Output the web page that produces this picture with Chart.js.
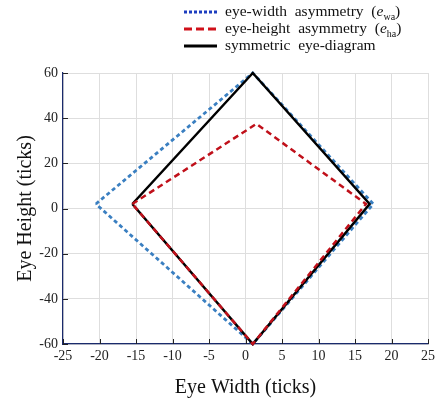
<!DOCTYPE html>
<html>
<head>
<meta charset="utf-8">
<script src="https://cdn.jsdelivr.net/npm/chart.js@4"></script>
<style>
  body { margin: 0; background: #fff; }
  #wrap { position: relative; width: 442px; height: 404px; }
  #legend { position: absolute; left: 183px; top: 2px; font-family: "Liberation Serif", serif; font-size: 15.5px; color: #111; }
  #legend div { height: 17px; line-height: 17px; white-space: nowrap; }
  #legend svg { vertical-align: middle; margin-right: 8px; }
  #legend sub { font-size: 10px; }
</style>
</head>
<body>
<div id="wrap">
  <canvas id="c" width="442" height="404"></canvas>
  <div id="legend">
    <div><svg width="34" height="6"><line x1="1" y1="3" x2="34" y2="3" stroke="#1c3dbf" stroke-width="3" stroke-dasharray="3,2"/></svg>eye-width&nbsp; asymmetry&nbsp; (<i>e</i><sub>wa</sub>)</div>
    <div><svg width="34" height="6"><line x1="1" y1="3" x2="34" y2="3" stroke="#d0101a" stroke-width="3" stroke-dasharray="8,4"/></svg>eye-height&nbsp; asymmetry&nbsp; (<i>e</i><sub>ha</sub>)</div>
    <div><svg width="34" height="6"><line x1="1" y1="3" x2="34" y2="3" stroke="#000" stroke-width="3"/></svg>symmetric&nbsp; eye-diagram</div>
  </div>
</div>
<script>
// corner points of each eye outline (left, top, right, bottom, back to left)
const widthX = [-20.5, 1, 17.5, 1, -20.5];
const widthY = [2, 60, 2, -60, 2];
const heightX = [-15.5, 1.5, 16.5, 1, -15.5];
const heightY = [2, 37.5, 2, -60, 2];
const symX = [-15.5, 1, 17, 1, -15.5];
const symY = [2, 60, 2, -60, 2];

const xTicks = [-25, -20, -15, -10, -5, 0, 5, 10, 15, 20, 25];
const yTicks = [-60, -40, -20, 0, 20, 40, 60];

function pts(xs, ys) {
    return xs.map((x, i) => ({ x: x, y: ys[i] }));
}

const serif = '"Liberation Serif", "Times New Roman", serif';

// small inward tick marks like the original plot
const innerTicks = {
    id: 'innerTicks',
    afterDraw(chart) {
        const ctx = chart.ctx;
        const a = chart.chartArea;
        const xs = chart.scales.x, ys = chart.scales.y;
        ctx.save();
        ctx.strokeStyle = '#222';
        ctx.lineWidth = 1;
        xTicks.forEach(v => {
            const px = Math.round(xs.getPixelForValue(v)) + 0.5;
            ctx.beginPath();
            ctx.moveTo(px, a.bottom);
            ctx.lineTo(px, a.bottom - 5);
            ctx.stroke();
        });
        yTicks.forEach(v => {
            const py = Math.round(ys.getPixelForValue(v)) + 0.5;
            ctx.beginPath();
            ctx.moveTo(a.left, py);
            ctx.lineTo(a.left + 5, py);
            ctx.stroke();
        });
        ctx.restore();
    }
};

new Chart(document.getElementById('c'), {
    type: 'scatter',
    data: {
        datasets: [
            {
                label: 'eye-width asymmetry',
                data: pts(widthX, widthY),
                showLine: true,
                borderColor: '#3a7fc1',
                borderWidth: 2.8,
                borderDash: [4, 3],
                pointRadius: 0,
                order: 3
            },
            {
                label: 'symmetric eye-diagram',
                data: pts(symX, symY),
                showLine: true,
                borderColor: '#000',
                borderWidth: 2.5,
                pointRadius: 0,
                order: 2
            },
            {
                label: 'eye-height asymmetry',
                data: pts(heightX, heightY),
                showLine: true,
                borderColor: '#c0101a',
                borderWidth: 2.5,
                borderDash: [6, 4],
                pointRadius: 0,
                order: 1
            }
        ]
    },
    options: {
        responsive: false,
        animation: false,
        clip: false,
        layout: { padding: { top: 73, right: 14, left: 10, bottom: 0 } },
        plugins: {
            legend: { display: false },
            tooltip: { enabled: false }
        },
        scales: {
            x: {
                type: 'linear',
                min: -25,
                max: 25,
                afterBuildTicks: s => { s.ticks = xTicks.map(v => ({ value: v })); },
                afterFit: s => { s.height = 60; },
                ticks: {
                    color: '#222',
                    padding: 4,
                    font: { family: serif, size: 14 }
                },
                grid: { color: '#dedede', drawTicks: false },
                border: { color: '#1a2a6c', width: 1.2 },
                title: {
                    display: true,
                    text: 'Eye Width (ticks)',
                    color: '#111',
                    padding: { top: 3 },
                    font: { family: serif, size: 20 }
                }
            },
            y: {
                type: 'linear',
                min: -60,
                max: 60,
                afterBuildTicks: s => { s.ticks = yTicks.map(v => ({ value: v })); },
                afterFit: s => { s.width = 53; },
                ticks: {
                    color: '#222',
                    padding: 5,
                    font: { family: serif, size: 14 }
                },
                grid: { color: '#dedede', drawTicks: false },
                border: { color: '#1a2a6c', width: 1.2 },
                title: {
                    display: true,
                    text: 'Eye Height (ticks)',
                    color: '#111',
                    padding: { bottom: 2 },
                    font: { family: serif, size: 20 }
                }
            }
        }
    },
    plugins: [innerTicks]
});
</script>
</body>
</html>
